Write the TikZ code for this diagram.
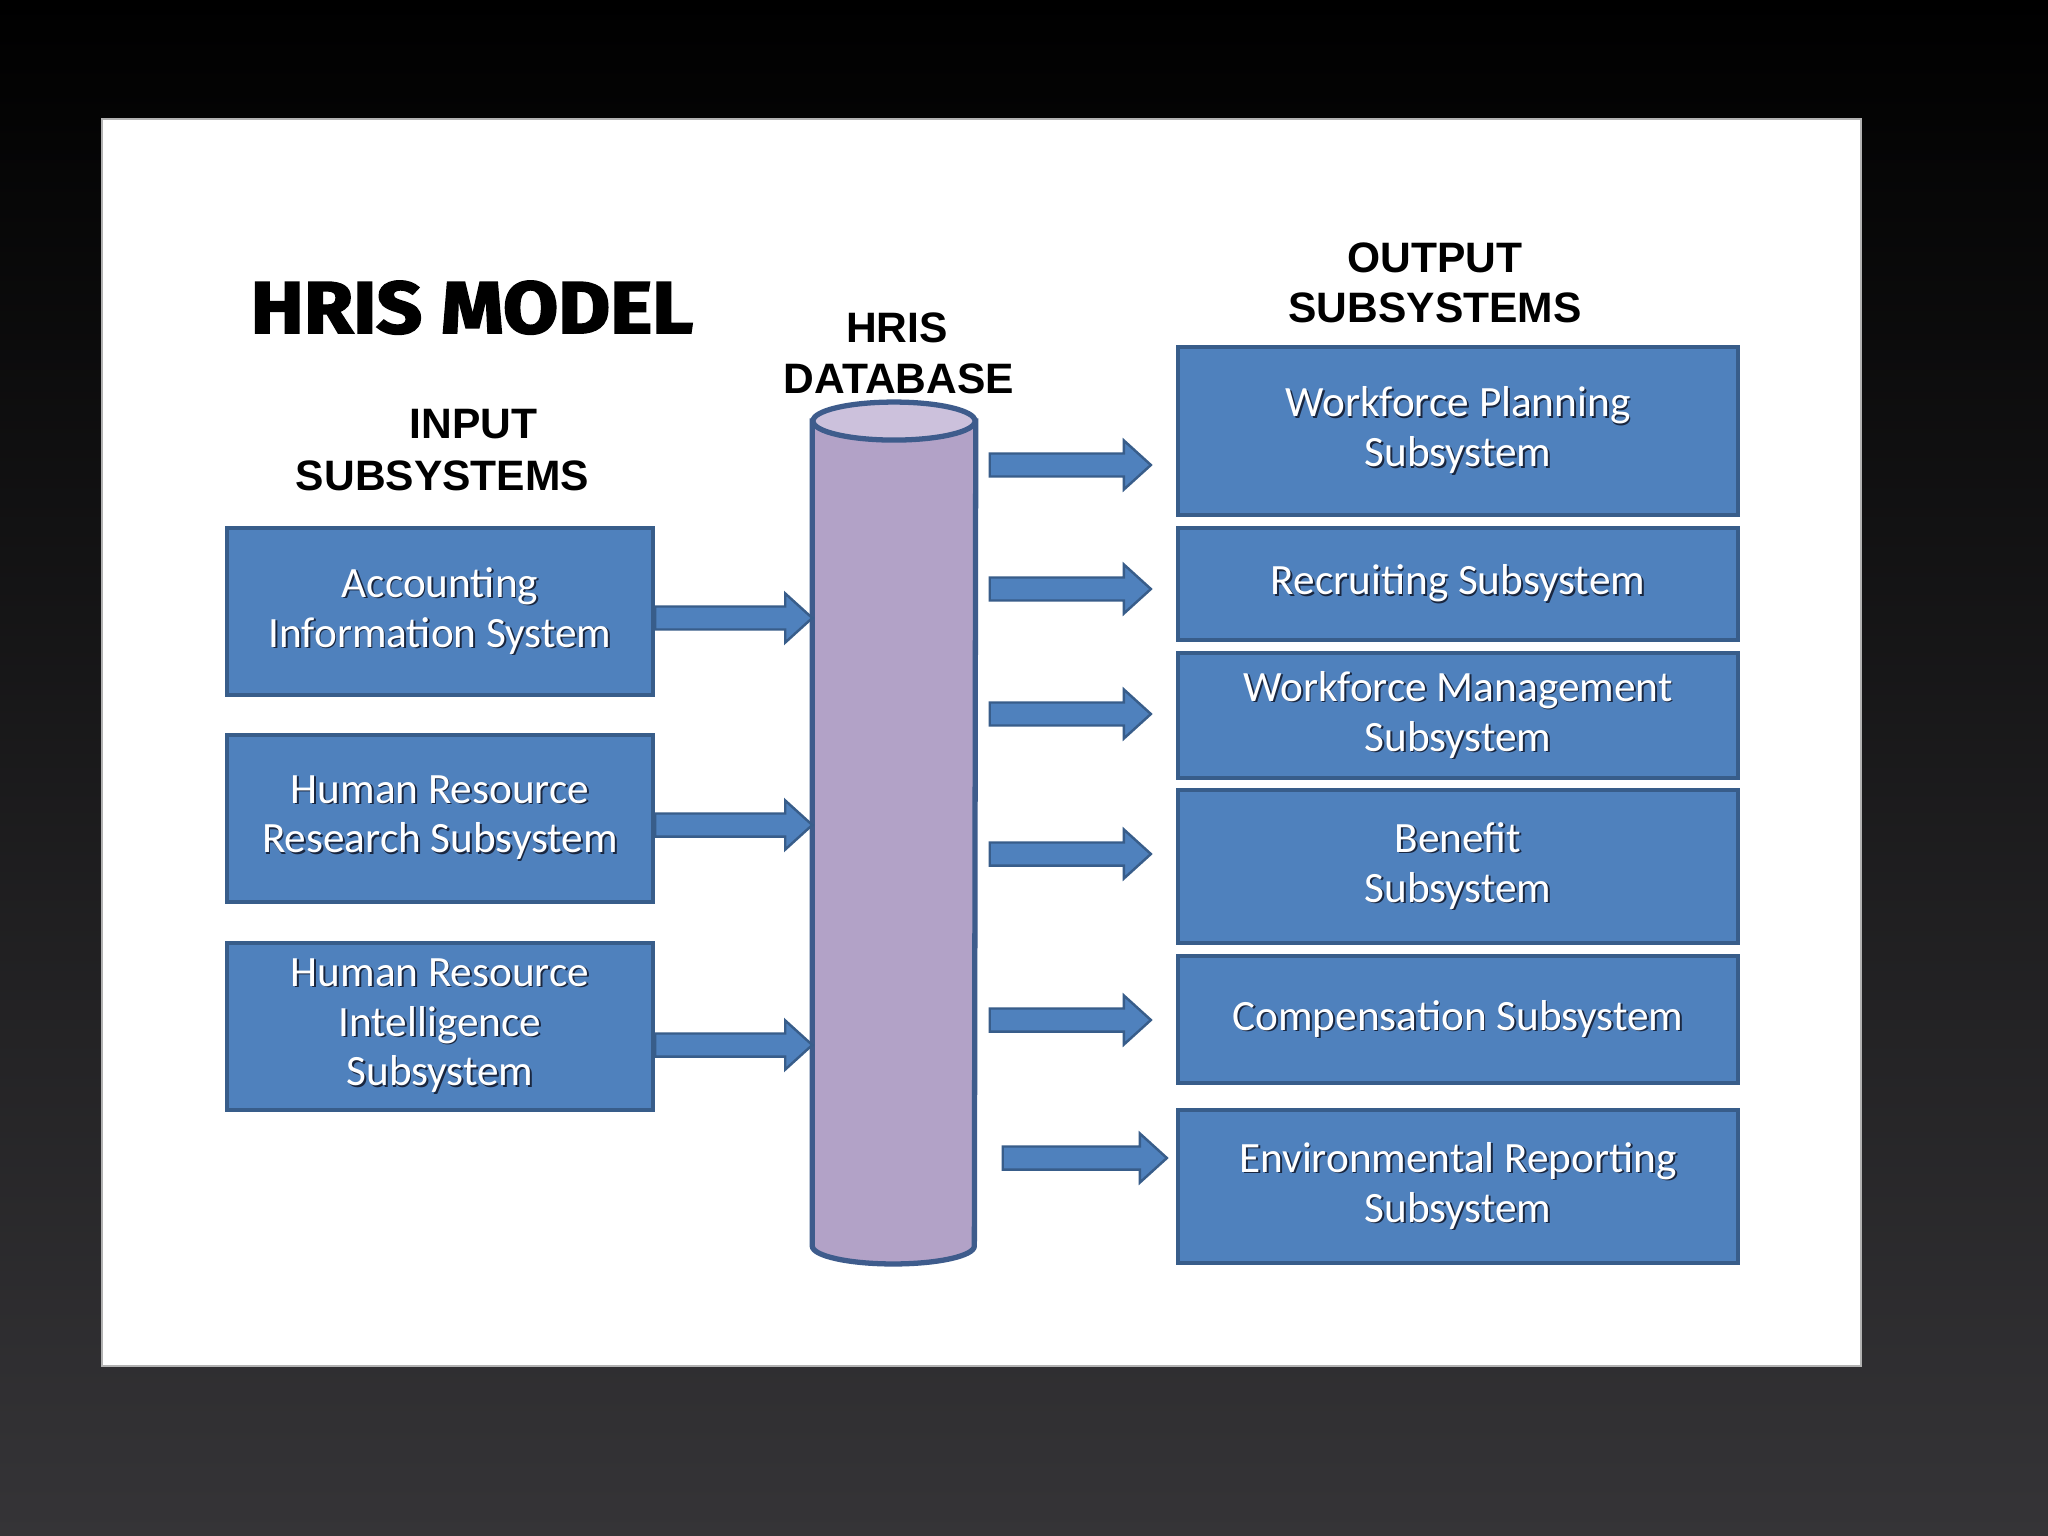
\documentclass[tikz,border=0pt]{standalone}
\usepackage{fontspec}
\usepackage{graphicx}
\setmainfont{Carlito}
\newfontfamily\headfont{Liberation Sans}
\newfontfamily\titlefont[BoldFeatures={FakeBold=2.5}]{Fira Sans}
\usetikzlibrary{calc}
\definecolor{boxblue}{HTML}{4F81BD}
\definecolor{boxline}{HTML}{385D8A}
\definecolor{cylfill}{HTML}{B2A2C7}
\definecolor{cyltop}{HTML}{CCC1DC}
\definecolor{cylline}{HTML}{3E5C8C}
\definecolor{bgbottom}{HTML}{353437}
\definecolor{shadowc}{HTML}{1A2740}
\newcommand\shd[1]{\makebox[0pt][l]{\hspace{0.5pt}\raisebox{-0.5pt}{\textcolor{shadowc}{#1}}}#1}
\newcommand\barrow[2]{\path[blockarrow] let \p1=(#1), \p2=(#2) in
  (\x1,\y1+0.115cm) -- (\x2-0.27cm,\y1+0.115cm) -- (\x2-0.27cm,\y1+0.245cm) -- (\x2,\y1)
  -- (\x2-0.27cm,\y1-0.245cm) -- (\x2-0.27cm,\y1-0.115cm) -- (\x1,\y1-0.115cm) -- cycle;}
\tikzset{
  inbox/.style={draw=boxline, fill=boxblue, line width=1.1pt, minimum width=4.26cm,
    text=white, font=\fontsize{12.3pt}{14.2pt}\selectfont, align=center, inner sep=0pt},
  outbox/.style={inbox, minimum width=5.6cm},
  head/.style={font=\headfont\bfseries\fontsize{12.1pt}{14pt}\selectfont, anchor=base, inner sep=0pt},
  blockarrow/.style={fill=boxblue, draw=boxline, line width=0.7pt, line join=miter},
  cylbody/.style={fill=cylfill, draw=cylline, line width=1.5pt},
}
\begin{document}
\begin{tikzpicture}[x=0.01cm, y=-0.01cm]
\useasboundingbox (0,0) rectangle (2048,1536);
\shade[top color=black, bottom color=bgbottom] (0,0) rectangle (2048,1536);
\path[fill=white, draw=black!30, line width=0.3pt] (102,119) rectangle (1861,1366);

% title and headings
\node[anchor=base west, inner sep=0pt] (title) at (250,333)
  {\resizebox{4.42cm}{0.52cm}{\titlefont\bfseries HRIS MODEL}};
\node[head] (inA) at (473.5,438) {INPUT};
\node[head] (inB) at (442.5,490) {SUBSYSTEMS};
\node[head] (dbA) at (897,342) {HRIS};
\node[head] (dbB) at (899,393) {DATABASE};
\node[head] (outA) at (1435,272) {OUTPUT};
\node[head] (outB) at (1435,322) {SUBSYSTEMS};

% input boxes
\node[inbox, minimum height=1.67cm] (in1) at (440,611.5) {\shd{Accounting}\\\shd{Information System}};
\node[inbox, minimum height=1.67cm] (in2) at (440,818.5) {\shd{Human Resource}\\\shd{Research Subsystem}};
\node[inbox, minimum height=1.67cm] (in3) at (440,1026.5) {\shd{Human Resource}\\\shd{Intelligence}\\\shd{Subsystem}};

% output boxes
\node[outbox, minimum height=1.68cm] (o1) at (1458,431) {\shd{Workforce Planning}\\\shd{Subsystem}};
\node[outbox, minimum height=1.12cm] (o2) at (1458,584) {\shd{Recruiting Subsystem}};
\node[outbox, minimum height=1.25cm] (o3) at (1458,715.5) {\shd{Workforce Management}\\\shd{Subsystem}};
\node[outbox, minimum height=1.53cm] (o4) at (1458,866.5) {\shd{Benefit}\\\shd{Subsystem}};
\node[outbox, minimum height=1.27cm] (o5) at (1458,1019.5) {\shd{Compensation Subsystem}};
\node[outbox, minimum height=1.53cm] (o6) at (1458,1186.5) {\shd{Environmental Reporting}\\\shd{Subsystem}};

% database cylinder
\node[minimum width=1.62cm, minimum height=8.23cm, inner sep=0pt, draw=none] (db) at (894,833.5) {};
\path[cylbody] (db.north west) -- (db.south west)
  arc[start angle=180, end angle=360, x radius=0.81cm, y radius=0.18cm] -- (db.north east) -- cycle;
\path[cylbody, fill=cyltop] (db.north) ellipse[x radius=0.81cm, y radius=0.19cm];

% input arrows
\barrow{$(in1.east)+(0,6.5)$}{in1.east -| db.west}
\barrow{$(in2.east)+(0,6.5)$}{in2.east -| db.west}
\barrow{$(in3.east)+(0,18.5)$}{in3.east -| db.west}

% output arrows
\barrow{$(db.east |- o1.west)+(14,34)$}{[xshift=-0.25cm]o1.west}
\barrow{$(db.east |- o2.west)+(14,5)$}{[xshift=-0.25cm]o2.west}
\barrow{$(db.east |- o3.west)+(14,-1.5)$}{[xshift=-0.25cm]o3.west}
\barrow{$(db.east |- o4.west)+(14,-12.5)$}{[xshift=-0.25cm]o4.west}
\barrow{$(db.east |- o5.west)+(14,0.5)$}{[xshift=-0.25cm]o5.west}
\barrow{$(db.east |- o6.west)+(27,-28.5)$}{[xshift=-0.09cm]o6.west}
\end{tikzpicture}
\end{document}
